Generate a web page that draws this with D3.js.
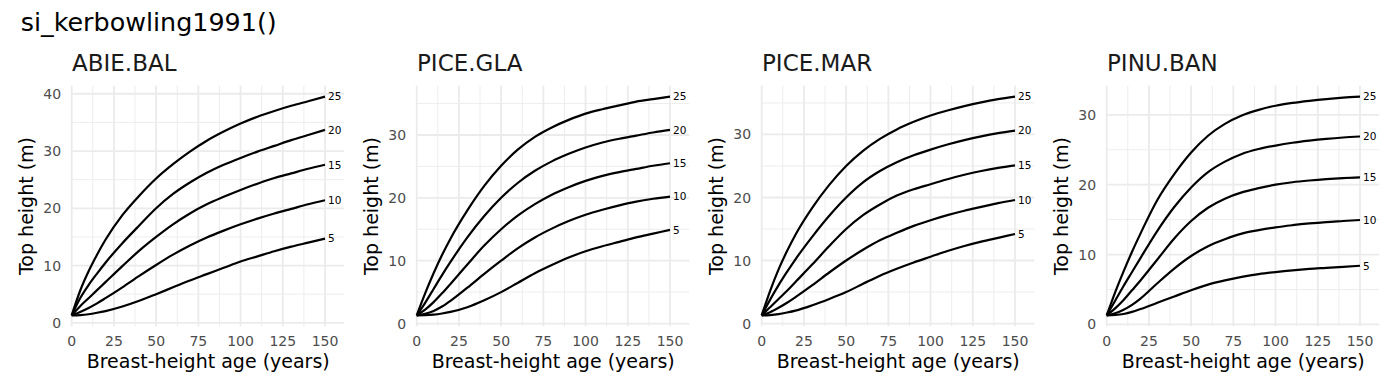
<!DOCTYPE html>
<html><head><meta charset="utf-8">
<script src="https://cdn.jsdelivr.net/npm/d3@7"></script>
<style>body{margin:0;background:#fff;} svg{display:block;font-family:"DejaVu Sans",sans-serif;}</style>
</head><body><svg id="c" width="1400" height="392"></svg>
<script>
const chartTitle = "si_kerbowling1991()";
const species = ["ABIE.BAL", "PICE.GLA", "PICE.MAR", "PINU.BAN"];
const siteIndices = [5, 10, 15, 20, 25];
const ages = [0, 5, 10, 15, 20, 30, 40, 50, 60, 70, 80, 90, 100, 110, 120, 130, 140, 150];
const xTicks = [0, 25, 50, 75, 100, 125, 150];
const xTitle = "Breast-height age (years)";
const yTitle = "Top height (m)";

// rows follow siteIndices (5,10,15,20,25), columns follow ages
const abieBal = [
  [1.3, 1.35, 1.5, 1.75, 2.05, 2.85, 3.85, 5.0, 6.2, 7.4, 8.5, 9.6, 10.7, 11.6, 12.5, 13.3, 14.0, 14.7],
  [1.3, 1.9, 2.6, 3.4, 4.3, 6.2, 8.2, 10.1, 11.9, 13.5, 14.9, 16.1, 17.2, 18.2, 19.1, 19.9, 20.7, 21.4],
  [1.3, 2.9, 4.3, 5.7, 7.1, 9.9, 12.6, 15.0, 17.2, 19.1, 20.7, 22.0, 23.2, 24.3, 25.3, 26.1, 26.9, 27.6],
  [1.3, 4.3, 6.6, 8.6, 10.5, 13.9, 17.0, 20.0, 22.5, 24.5, 26.2, 27.6, 28.8, 29.9, 30.9, 31.9, 32.8, 33.7],
  [1.3, 5.6, 9.0, 11.9, 14.5, 18.8, 22.2, 25.2, 27.7, 29.9, 31.8, 33.4, 34.8, 36.0, 37.0, 37.9, 38.7, 39.5]
];
const piceGla = [
  [1.3, 1.33, 1.42, 1.6, 1.85, 2.6, 3.7, 5.0, 6.5, 8.0, 9.3, 10.5, 11.5, 12.3, 13.0, 13.7, 14.3, 14.9],
  [1.3, 1.55, 2.0, 2.7, 3.6, 5.7, 7.9, 10.0, 12.0, 13.7, 15.1, 16.3, 17.3, 18.1, 18.8, 19.4, 19.85, 20.2],
  [1.3, 2.2, 3.4, 4.8, 6.3, 9.4, 12.4, 15.0, 17.2, 19.0, 20.5, 21.7, 22.7, 23.5, 24.1, 24.6, 25.1, 25.5],
  [1.3, 3.3, 5.5, 7.7, 9.8, 13.7, 17.1, 20.0, 22.4, 24.3, 25.8, 27.0, 28.0, 28.8, 29.4, 29.9, 30.4, 30.8],
  [1.3, 4.8, 8.0, 10.9, 13.5, 18.0, 21.9, 25.1, 27.7, 29.7, 31.2, 32.4, 33.4, 34.1, 34.7, 35.3, 35.7, 36.1]
];
const piceMar = [
  [1.3, 1.35, 1.5, 1.75, 2.05, 2.9, 3.9, 5.0, 6.3, 7.6, 8.7, 9.7, 10.6, 11.5, 12.3, 13.0, 13.6, 14.2],
  [1.3, 1.8, 2.5, 3.3, 4.2, 6.1, 8.1, 10.0, 11.7, 13.2, 14.4, 15.5, 16.4, 17.2, 17.9, 18.5, 19.1, 19.6],
  [1.3, 2.6, 3.9, 5.2, 6.6, 9.4, 12.3, 15.0, 17.2, 18.9, 20.3, 21.3, 22.1, 22.9, 23.6, 24.2, 24.7, 25.1],
  [1.3, 3.8, 6.1, 8.2, 10.2, 13.8, 17.1, 20.0, 22.4, 24.2, 25.6, 26.7, 27.6, 28.4, 29.1, 29.7, 30.2, 30.6],
  [1.3, 5.2, 8.6, 11.5, 14.1, 18.4, 22.0, 25.0, 27.4, 29.3, 30.8, 32.0, 33.0, 33.8, 34.5, 35.1, 35.6, 36.0]
];
const pinuBan = [
  [1.3, 1.35, 1.5, 1.8, 2.2, 3.1, 4.0, 4.9, 5.7, 6.3, 6.8, 7.2, 7.5, 7.75, 7.95, 8.1, 8.25, 8.4],
  [1.3, 1.6, 2.1, 2.8, 3.7, 5.9, 8.0, 9.8, 11.2, 12.2, 13.0, 13.5, 13.9, 14.2, 14.45, 14.65, 14.8, 14.95],
  [1.3, 2.3, 3.5, 4.9, 6.3, 9.3, 12.3, 14.8, 16.7, 18.0, 18.9, 19.5, 20.0, 20.35, 20.6, 20.8, 20.95, 21.05],
  [1.3, 3.4, 5.5, 7.5, 9.5, 13.4, 16.8, 19.6, 21.8, 23.3, 24.4, 25.1, 25.6, 26.0, 26.3, 26.55, 26.75, 26.9],
  [1.3, 4.6, 7.6, 10.4, 13.0, 17.8, 21.5, 24.6, 27.0, 28.7, 29.9, 30.7, 31.3, 31.7, 32.0, 32.25, 32.45, 32.6]
];
const heightsBySpecies = [abieBal, piceGla, piceMar, pinuBan];

const svg = d3.select("#c");
svg.append("text").attr("x", 20.7).attr("y", 30.5)
  .attr("font-size", 25.4).attr("fill", "#000").text(chartTitle);

const panelW = 272.5, yTop = 85.7, yBot = 326.3;
const gridCol = "#EBEBEB";

species.forEach((sp, i) => {
  const x0 = 71.7 + i * 345;
  const x = d3.scaleLinear().domain([0, 161.37]).range([x0, x0 + panelW]);
  const rows = heightsBySpecies[i];
  const all = rows.flat();
  const mn = d3.min(all), mx = d3.max(all), pad = (mx - mn) * 0.05;
  const y = d3.scaleLinear().domain([mn - pad, mx + pad]).range([yBot, yTop]);
  const g = svg.append("g");
  const [ylo, yhi] = y.domain();
  const yMajor = y.ticks(4).filter(t => t >= ylo && t <= yhi);
  const yStep = yMajor[1] - yMajor[0];
  const yMinor = d3.range(yMajor[0] - yStep / 2, yhi, yStep).filter(t => t >= ylo && t <= yhi && !yMajor.includes(t));
  const xMinor = d3.range(12.5, 161.37, 25);

  g.selectAll(".ymin").data(yMinor).join("line")
    .attr("x1", x.range()[0]).attr("x2", x.range()[1])
    .attr("y1", d => y(d)).attr("y2", d => y(d))
    .attr("stroke", gridCol).attr("stroke-width", 0.9);
  g.selectAll(".xmin").data(xMinor).join("line")
    .attr("y1", yTop).attr("y2", yBot)
    .attr("x1", d => x(d)).attr("x2", d => x(d))
    .attr("stroke", gridCol).attr("stroke-width", 0.9);
  g.selectAll(".ymaj").data(yMajor).join("line")
    .attr("x1", x.range()[0]).attr("x2", x.range()[1])
    .attr("y1", d => y(d)).attr("y2", d => y(d))
    .attr("stroke", gridCol).attr("stroke-width", 1.8);
  g.selectAll(".xmaj").data(xTicks).join("line")
    .attr("y1", yTop).attr("y2", yBot)
    .attr("x1", d => x(d)).attr("x2", d => x(d))
    .attr("stroke", gridCol).attr("stroke-width", 1.8);

  g.selectAll(".ylab").data(yMajor).join("text")
    .attr("x", x0 - 10.5).attr("y", d => y(d)).attr("dy", "0.36em")
    .attr("text-anchor", "end").attr("font-size", 14).attr("fill", "#4D4D4D")
    .text(d => d);
  g.selectAll(".xlab").data(xTicks).join("text")
    .attr("x", d => x(d)).attr("y", 346)
    .attr("text-anchor", "middle").attr("font-size", 14).attr("fill", "#4D4D4D")
    .text(d => d);

  g.append("text").attr("x", x0 + 136.5).attr("y", 368.3)
    .attr("text-anchor", "middle").attr("font-size", 19).attr("fill", "#000").text(xTitle);
  g.append("text").attr("transform", `translate(${x0 - 38.7},${(yTop + yBot) / 2}) rotate(-90)`)
    .attr("text-anchor", "middle").attr("font-size", 19).attr("fill", "#000").text(yTitle);

  g.append("text").attr("x", x0 + 0.3).attr("y", 70.7)
    .attr("font-size", 23).attr("fill", "#1A1A1A").text(sp);

  const line = d3.line().x((d, k) => x(ages[k])).y(d => y(d)).curve(d3.curveMonotoneX);
  g.selectAll(".curve").data(rows).join("path")
    .attr("d", d => line(d)).attr("fill", "none")
    .attr("stroke", "#000").attr("stroke-width", 2.2);
  g.selectAll(".endlab").data(rows).join("text")
    .attr("x", x(ages[ages.length - 1]) + 3)
    .attr("y", d => y(d[d.length - 1])).attr("dy", "0.36em")
    .attr("font-size", 10.5).attr("fill", "#000")
    .text((d, k) => siteIndices[k]);
});
</script></body></html>
